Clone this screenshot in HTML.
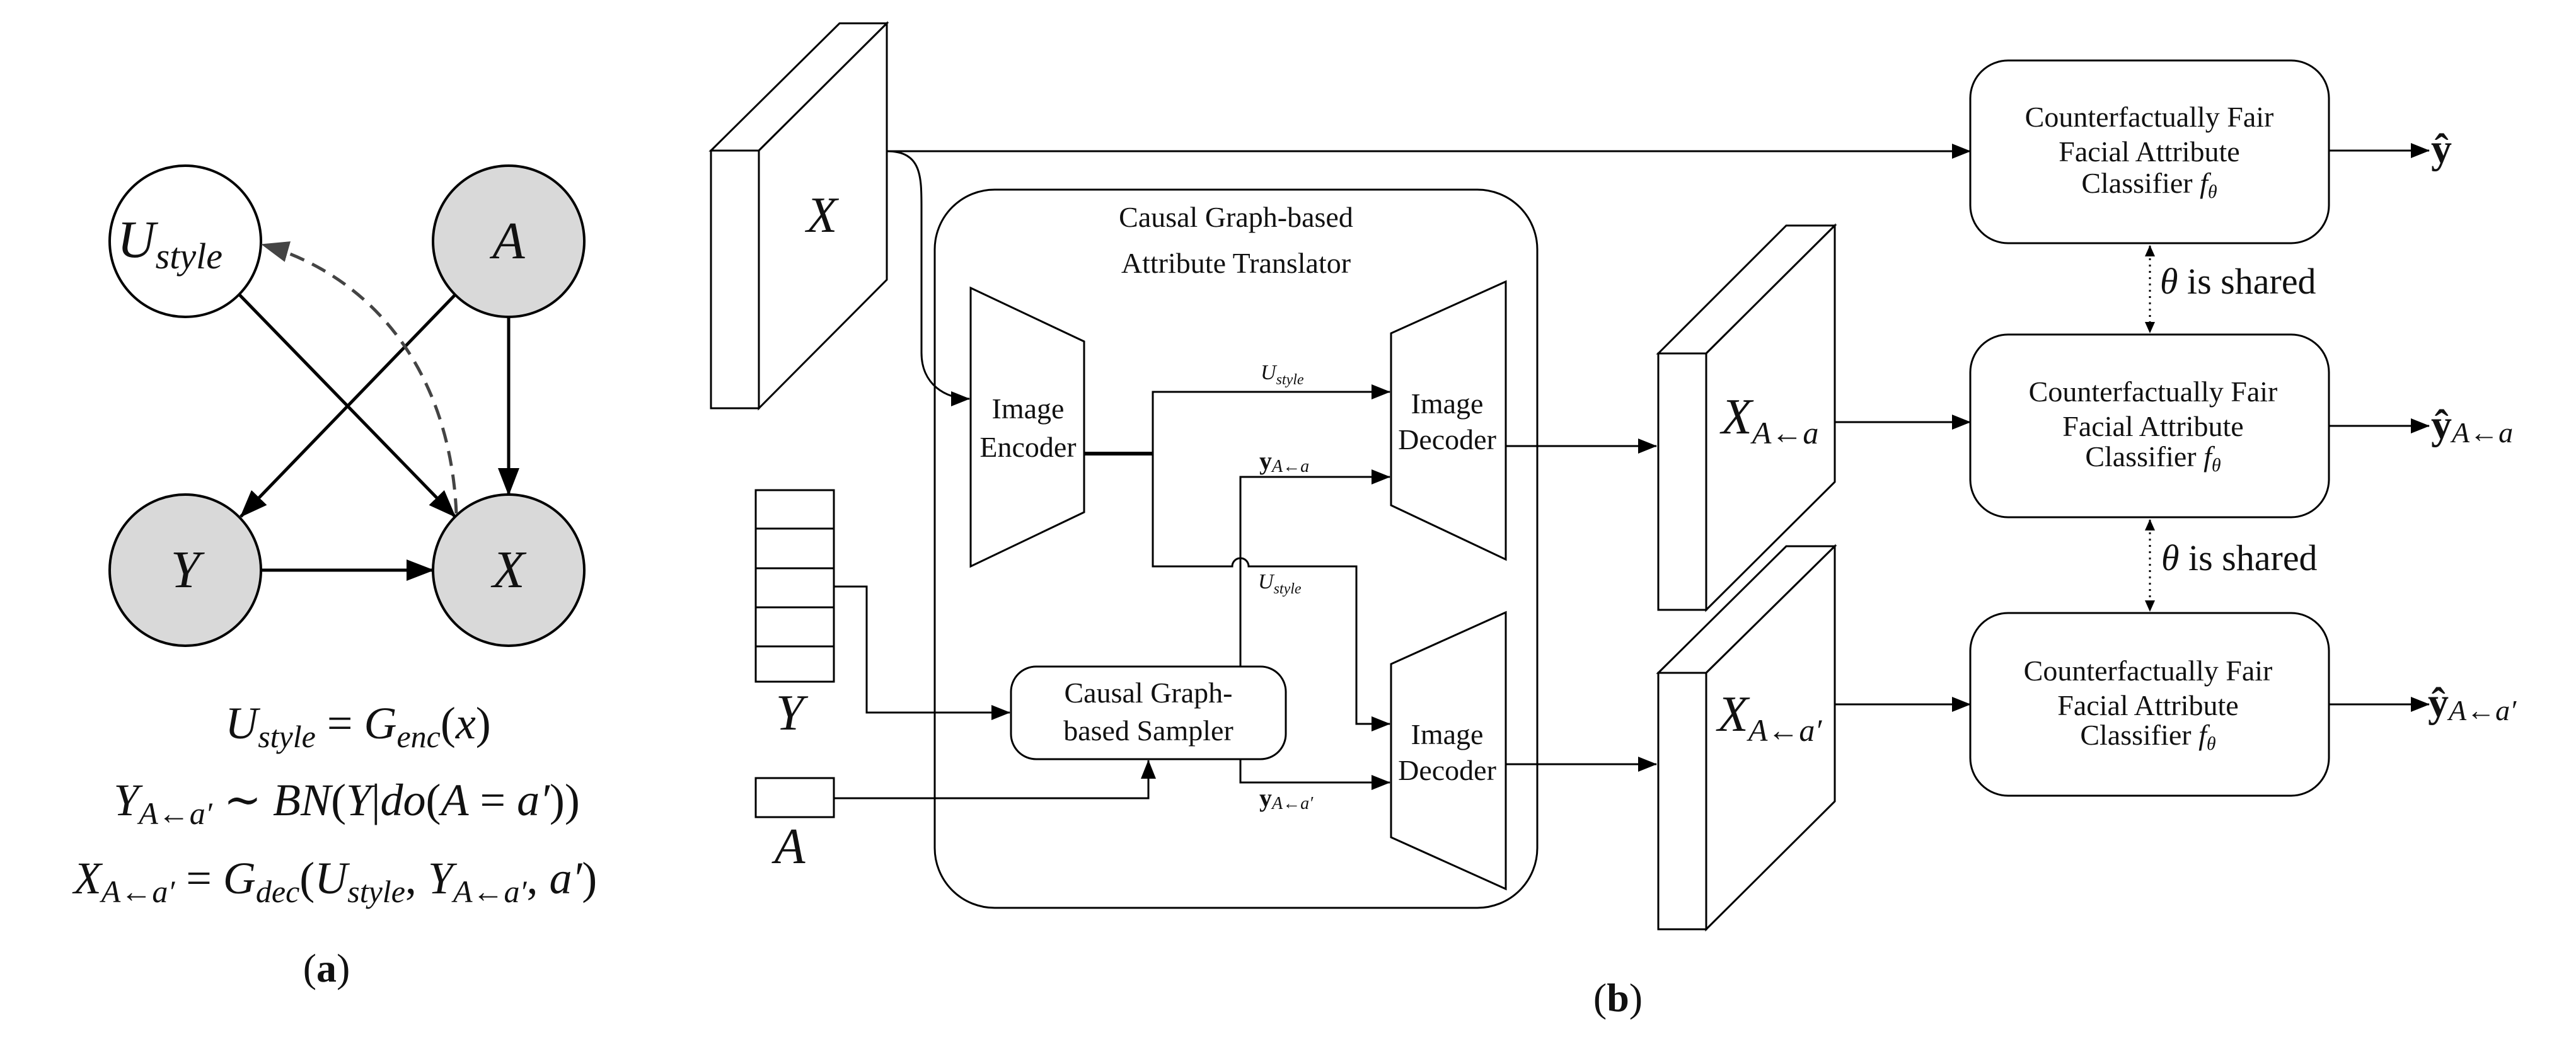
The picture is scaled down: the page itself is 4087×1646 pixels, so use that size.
<!DOCTYPE html>
<html><head><meta charset="utf-8"><style>
html,body{margin:0;padding:0;background:#fff}
svg{display:block}
text{font-family:"Liberation Serif","DejaVu Serif",serif;fill:#111}
</style></head><body>
<svg width="4087" height="1646" viewBox="0 0 4087 1646" xmlns="http://www.w3.org/2000/svg">
<defs>
<marker id="ab" markerUnits="userSpaceOnUse" markerWidth="44" markerHeight="34" refX="42" refY="17" orient="auto"><path d="M0,0 L44,17 L0,34 z" fill="#000"/></marker>
<marker id="ad" markerUnits="userSpaceOnUse" markerWidth="44" markerHeight="34" refX="42" refY="17" orient="auto"><path d="M0,0 L44,17 L0,34 z" fill="#444"/></marker>
<marker id="as" markerUnits="userSpaceOnUse" markerWidth="30" markerHeight="24" refX="29" refY="12" orient="auto"><path d="M0,0 L30,12 L0,24 z" fill="#000"/></marker>
<marker id="at" markerUnits="userSpaceOnUse" markerWidth="18" markerHeight="16" refX="17" refY="8" orient="auto"><path d="M0,0 L18,8 L0,16 z" fill="#000"/></marker>
<marker id="atr" markerUnits="userSpaceOnUse" markerWidth="18" markerHeight="16" refX="1" refY="8" orient="auto"><path d="M18,0 L0,8 L18,16 z" fill="#000"/></marker>
</defs>

<!-- (a) graph -->
<g stroke="#000" stroke-width="4" fill="none">
<circle cx="294" cy="383" r="120" fill="#fff"/>
<circle cx="807" cy="383" r="120" fill="#d9d9d9"/>
<circle cx="294" cy="905" r="120" fill="#d9d9d9"/>
<circle cx="807" cy="905" r="120" fill="#d9d9d9"/>
<line x1="380" y1="468" x2="722" y2="820" stroke-width="5" marker-end="url(#ab)"/>
<line x1="722" y1="468" x2="382" y2="820" stroke-width="5" marker-end="url(#ab)"/>
<line x1="807" y1="503" x2="807" y2="785" stroke-width="5" marker-end="url(#ab)"/>
<line x1="414" y1="905" x2="687" y2="905" stroke-width="5" marker-end="url(#ab)"/>
<path d="M724,815 C715,600 600,440 416,388" stroke="#444" stroke-width="5" stroke-dasharray="24,14" marker-end="url(#ad)"/>
</g>
<g font-style="italic" font-size="84">
<text x="186" y="408">U<tspan font-size="58" dy="18">style</tspan></text>
<text x="807" y="410" text-anchor="middle">A</text>
<text x="294" y="932" text-anchor="middle">Y</text>
<text x="807" y="932" text-anchor="middle">X</text>
</g>
<g font-size="72" font-style="italic">
<text x="568" y="1172" text-anchor="middle">U<tspan font-size="50" dy="14">style</tspan><tspan dy="-14" font-style="normal"> = </tspan>G<tspan font-size="50" dy="14">enc</tspan><tspan dy="-14" font-style="normal">(</tspan>x<tspan font-style="normal">)</tspan></text>
<text x="550" y="1294" text-anchor="middle">Y<tspan font-size="50" dy="14">A←a′</tspan><tspan dy="-14" font-style="normal"> ∼ </tspan>BN<tspan font-style="normal">(</tspan>Y<tspan font-style="normal">|</tspan>do<tspan font-style="normal">(</tspan>A<tspan font-style="normal"> = </tspan>a′<tspan font-style="normal">))</tspan></text>
<text x="532" y="1418" text-anchor="middle">X<tspan font-size="50" dy="14">A←a′</tspan><tspan dy="-14" font-style="normal"> = </tspan>G<tspan font-size="50" dy="14">dec</tspan><tspan dy="-14" font-style="normal">(</tspan>U<tspan font-size="50" dy="14">style</tspan><tspan dy="-14" font-style="normal">, </tspan>Y<tspan font-size="50" dy="14">A←a′</tspan><tspan dy="-14" font-style="normal">, </tspan>a′<tspan font-style="normal">)</tspan></text>
</g>
<text x="518" y="1558" text-anchor="middle" font-size="64">(<tspan font-weight="bold">a</tspan>)</text>
<text x="2567" y="1605" text-anchor="middle" font-size="64">(<tspan font-weight="bold">b</tspan>)</text>

<!-- (b) -->
<g stroke="#000" stroke-width="3" fill="#fff">
<!-- X block -->
<path d="M1128,239 L1332,37 L1407,37 L1204,239 z"/>
<path d="M1204,239 L1407,37 L1407,444 L1204,648 z"/>
<rect x="1128" y="239" width="76" height="409"/>
<!-- outer translator box -->
<rect x="1483" y="301" width="956" height="1140" rx="95" ry="95" fill="none"/>
<!-- encoder -->
<path d="M1540,457 L1720,542 L1720,813 L1540,899 z"/>
<!-- decoders -->
<path d="M2207,529 L2389,447 L2389,888 L2207,802 z"/>
<path d="M2207,1054 L2389,972 L2389,1411 L2207,1329 z"/>
<!-- sampler -->
<rect x="1604" y="1058" width="436" height="147" rx="40" ry="40"/>
<!-- Y stack -->
<rect x="1199" y="778" width="124" height="304"/>
<line x1="1199" y1="839" x2="1323" y2="839"/>
<line x1="1199" y1="902" x2="1323" y2="902"/>
<line x1="1199" y1="964" x2="1323" y2="964"/>
<line x1="1199" y1="1026" x2="1323" y2="1026"/>
<rect x="1199" y="1235" width="124" height="62"/>
<!-- XA blocks -->
<path d="M2631,561 L2834,358 L2911,358 L2707,561 z"/>
<path d="M2707,561 L2911,358 L2911,765 L2707,968 z"/>
<rect x="2631" y="561" width="76" height="407"/>
<path d="M2631,1068 L2834,867 L2911,867 L2707,1068 z"/>
<path d="M2707,1068 L2911,867 L2911,1272 L2707,1475 z"/>
<rect x="2631" y="1068" width="76" height="407"/>
<!-- classifiers -->
<rect x="3126" y="96" width="569" height="290" rx="60" ry="60"/>
<rect x="3126" y="531" width="569" height="290" rx="60" ry="60"/>
<rect x="3126" y="973" width="569" height="290" rx="60" ry="60"/>
</g>
<g stroke="#000" stroke-width="3" fill="none">
<path d="M1407,240 H3126" marker-end="url(#as)"/>
<path d="M1407,240 C1462,240 1462,280 1462,330 V560 C1462,610 1500,633 1538,633" marker-end="url(#as)"/>
<path d="M1720,720 H1829" stroke-width="6"/>
<path d="M1829,720 V622 H2205" marker-end="url(#as)"/>
<path d="M1829,720 V899 H1955 A13,13 0 0 1 1981,899 H2152 V1149 H2205" marker-end="url(#as)"/>
<path d="M1968,1058 V757 H2205" marker-end="url(#as)"/>
<path d="M1968,1205 V1242 H2205" marker-end="url(#as)"/>
<path d="M1323,931 H1375 V1131 H1602" marker-end="url(#as)"/>
<path d="M1323,1267 H1822 V1207" marker-end="url(#as)"/>
<path d="M2389,708 H2628" marker-end="url(#as)"/>
<path d="M2389,1213 H2628" marker-end="url(#as)"/>
<path d="M2911,670 H3126" marker-end="url(#as)"/>
<path d="M2911,1118 H3126" marker-end="url(#as)"/>
<path d="M3695,239 H3854" marker-end="url(#as)"/>
<path d="M3695,676 H3854" marker-end="url(#as)"/>
<path d="M3695,1118 H3854" marker-end="url(#as)"/>
<path d="M3411,390 V528" stroke-dasharray="3,7" marker-start="url(#atr)" marker-end="url(#at)"/>
<path d="M3411,825 V970" stroke-dasharray="3,7" marker-start="url(#atr)" marker-end="url(#at)"/>
</g>

<g font-style="italic" font-size="80">
<text x="1304" y="368" text-anchor="middle">X</text>
<text x="1253" y="1158" text-anchor="middle">Y</text>
<text x="1253" y="1370" text-anchor="middle">A</text>
<text x="2731" y="688">X<tspan font-size="50" dy="16">A←a</tspan></text>
<text x="2725" y="1160">X<tspan font-size="50" dy="16">A←a′</tspan></text>
</g>
<g font-size="46" text-anchor="middle">
<text x="1961" y="360">Causal Graph-based</text>
<text x="1961" y="433">Attribute Translator</text>
<text x="1631" y="664">Image</text>
<text x="1631" y="725">Encoder</text>
<text x="2296" y="656">Image</text>
<text x="2296" y="713">Decoder</text>
<text x="2296" y="1181">Image</text>
<text x="2296" y="1238">Decoder</text>
<text x="1822" y="1115">Causal Graph-</text>
<text x="1822" y="1175">based Sampler</text>
</g>
<g font-size="34" font-style="italic" fill="#333">
<text x="2000" y="602">U<tspan font-size="24" dy="8">style</tspan></text>
<text x="1996" y="934">U<tspan font-size="24" dy="8">style</tspan></text>
<text x="1998" y="745"><tspan font-weight="bold" font-style="normal" font-size="40">y</tspan><tspan font-size="28" dy="4">A←a</tspan></text>
<text x="1998" y="1280"><tspan font-weight="bold" font-style="normal" font-size="40">y</tspan><tspan font-size="28" dy="4">A←a′</tspan></text>
</g>
<g font-size="46" text-anchor="middle">
<text x="3410" y="201">Counterfactually Fair</text>
<text x="3410" y="256">Facial Attribute</text>
<text x="3410" y="306">Classifier <tspan font-style="italic">f<tspan font-size="30" dy="8">θ</tspan></tspan></text>
<text x="3416" y="637">Counterfactually Fair</text>
<text x="3416" y="692">Facial Attribute</text>
<text x="3416" y="740">Classifier <tspan font-style="italic">f<tspan font-size="30" dy="8">θ</tspan></tspan></text>
<text x="3408" y="1080">Counterfactually Fair</text>
<text x="3408" y="1135">Facial Attribute</text>
<text x="3408" y="1182">Classifier <tspan font-style="italic">f<tspan font-size="30" dy="8">θ</tspan></tspan></text>
</g>
<g font-size="58">
<text x="3427" y="466"><tspan font-style="italic">θ</tspan> is shared</text>
<text x="3429" y="905"><tspan font-style="italic">θ</tspan> is shared</text>
</g>
<g font-size="66">
<text x="3857" y="258" font-weight="bold">ŷ</text>
<text x="3857" y="696"><tspan font-weight="bold">ŷ</tspan><tspan font-style="italic" font-size="46" dy="6">A←a</tspan></text>
<text x="3852" y="1137"><tspan font-weight="bold">ŷ</tspan><tspan font-style="italic" font-size="46" dy="6">A←a′</tspan></text>
</g>
</svg>
</body></html>
